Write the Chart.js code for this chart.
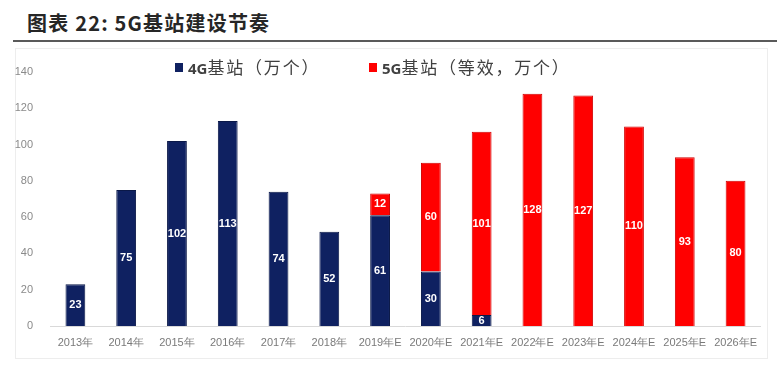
<!DOCTYPE html>
<html>
<head>
<meta charset="utf-8">
<script src="https://cdn.jsdelivr.net/npm/chart.js@4/dist/chart.umd.min.js"></script>
<style>
  body { margin: 0; width: 777px; height: 367px; background: #fff; position: relative; overflow: hidden; }
  .title { position: absolute; left: 27px; top: 8px; font: 700 20px "Noto Sans CJK SC", sans-serif; color: #262626; letter-spacing: 1.2px; }
  .rule { position: absolute; left: 13px; right: 0; top: 40px; height: 2px; background: #5a5a5a; }
  .frame { position: absolute; left: 15px; top: 48px; width: 751px; height: 309px; border: 1px solid #ededed; }
  .chart-box { position: absolute; left: 10px; top: 48px; width: 757px; height: 310px; }
  .legend { position: absolute; top: 54px; font: 17px "Noto Sans CJK SC", sans-serif; color: #404040; white-space: nowrap; letter-spacing: 1.8px; }
  .legend span.sw { display: inline-block; width: 8px; height: 9px; margin-right: 5px; vertical-align: 2px; }
  .legend b { font-family: "Open Sans", sans-serif; font-size: 15px; letter-spacing: 0; }
</style>
</head>
<body>
<div class="title">图表 22: 5G基站建设节奏</div>
<div class="rule"></div>
<div class="frame"></div>
<div class="chart-box"><canvas id="chart"></canvas></div>
<div id="legend"></div>

<script>
const categories = ['2013年', '2014年', '2015年', '2016年', '2017年', '2018年', '2019年E',
  '2020年E', '2021年E', '2022年E', '2023年E', '2024年E', '2025年E', '2026年E'];
const base4G = [23, 75, 102, 113, 74, 52, 61, 30, 6, null, null, null, null, null];
const base5G = [null, null, null, null, null, null, 12, 60, 101, 128, 127, 110, 93, 80];
const yTicks = [0, 20, 40, 60, 80, 100, 120, 140];
const seriesNames = [['4G', '基站（万个）'], ['5G', '基站（等效，万个）']];
const colors = ['#0f2161', '#ff0000'];

// white numbers in the middle of each stacked segment
const barLabels = {
  id: 'barLabels',
  afterDatasetsDraw(chart) {
    const ctx = chart.ctx;
    ctx.save();
    ctx.font = 'bold 11px "Liberation Sans", sans-serif';
    ctx.fillStyle = '#ffffff';
    ctx.textAlign = 'center';
    ctx.textBaseline = 'middle';
    chart.data.datasets.forEach((ds, i) => {
      chart.getDatasetMeta(i).data.forEach((bar, j) => {
        const v = ds.data[j];
        if (v == null) return;
        ctx.fillText(String(v), bar.x, (bar.y + bar.base) / 2);
      });
    });
    ctx.restore();
  }
};

const ctx = document.getElementById('chart').getContext('2d');
new Chart(ctx, {
  type: 'bar',
  data: {
    labels: categories,
    datasets: [
      { label: seriesNames[0].join(''), data: base4G, backgroundColor: colors[0], borderColor: '#0a1848', borderWidth: 1 },
      { label: seriesNames[1].join(''), data: base5G, backgroundColor: colors[1], borderColor: '#d00000', borderWidth: 1 }
    ]
  },
  options: {
    responsive: true,
    maintainAspectRatio: false,
    animation: false,
    layout: { padding: { top: 24, right: 1, left: 0, bottom: 0 } },
    barPercentage: 0.39,
    categoryPercentage: 1,
    plugins: {
      legend: { display: false },
      tooltip: { enabled: false }
    },
    scales: {
      x: {
        stacked: true,
        grid: { display: false, drawTicks: false },
        border: { display: true, color: '#d9d9d9' },
        ticks: { color: '#7a7a7a', font: { size: 11, family: 'Liberation Sans' }, padding: 10, maxRotation: 0, autoSkip: false },
        afterFit: s => { s.height = 32; }
      },
      y: {
        stacked: true,
        min: 0,
        max: 140,
        afterBuildTicks: s => { s.ticks = yTicks.map(v => ({ value: v })); },
        grid: { display: false, drawTicks: false },
        border: { display: false },
        ticks: { color: '#8a8a8a', font: { size: 11, family: 'Liberation Sans' }, padding: 17 },
        afterFit: s => { s.width = 40; }
      }
    }
  },
  plugins: [barLabels]
});

// legend as html, built from the series names
const legend = document.getElementById('legend');
const legendX = [175, 369];
seriesNames.forEach((n, i) => {
  const d = document.createElement('div');
  d.className = 'legend';
  d.style.left = legendX[i] + 'px';
  d.innerHTML = '<span class="sw" style="background:' + colors[i] + '"></span><b>' + n[0] + '</b>' + n[1];
  legend.appendChild(d);
});
</script>
</body>
</html>
